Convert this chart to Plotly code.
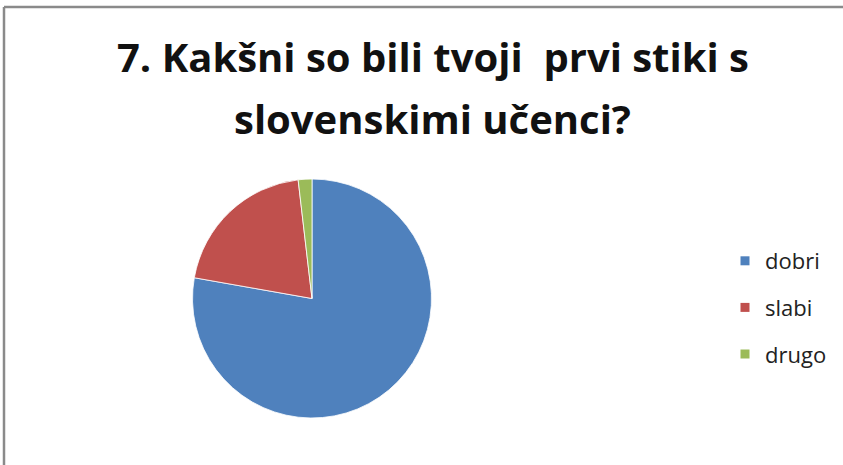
import plotly.graph_objects as go

categories = ["dobri", "slabi", "drugo"]
values = [42, 11, 1]
colors = ["#4F81BD", "#C0504D", "#9BBB59"]
title_lines = ["7. Kakšni so bili tvoji  prvi stiki s", "slovenskimi učenci?"]

W, H = 843, 465
cx, cy, r = 312, 298.5, 119.5

fig = go.Figure()
fig.add_trace(go.Pie(
    labels=categories, values=values, sort=False, direction="clockwise", rotation=0,
    marker=dict(colors=colors, line=dict(color="white", width=0.8)),
    textinfo="none", hoverinfo="label+value+percent", showlegend=False,
    domain=dict(x=[(cx - r) / W, (cx + r) / W], y=[(H - cy - r) / H, (H - cy + r) / H]),
))
for i, (c, col) in enumerate(zip(categories, colors)):
    fig.add_trace(go.Scatter(
        x=[None], y=[None], mode="markers", name=c, legendgroup=c,
        marker=dict(symbol="square", size=9, color=col), showlegend=True,
    ))

fig.update_layout(
    width=W, height=H, margin=dict(l=0, r=0, t=0, b=0),
    paper_bgcolor="white", plot_bgcolor="white",
    xaxis=dict(visible=False), yaxis=dict(visible=False),
    font=dict(family="Open Sans, sans-serif", color="#222"),
    legend=dict(x=725 / W, y=1 - 240 / H, xanchor="left", yanchor="top",
                font=dict(size=22, family="Open Sans, sans-serif", color="#222"),
                tracegroupgap=15, itemwidth=30, bgcolor="rgba(0,0,0,0)"),
    annotations=[
        dict(text=title_lines[0], x=433 / W, y=1 - 56 / H, xref="paper", yref="paper",
             showarrow=False, xanchor="center", yanchor="middle",
             font=dict(size=40, family="Open Sans, sans-serif", color="#111", weight="bold")),
        dict(text=title_lines[1], x=432 / W, y=1 - 118 / H, xref="paper", yref="paper",
             showarrow=False, xanchor="center", yanchor="middle",
             font=dict(size=40, family="Open Sans, sans-serif", color="#111", weight="bold")),
    ],
    shapes=[
        dict(type="line", xref="paper", yref="paper", x0=4 / W, x1=1, y0=1 - 7 / H, y1=1 - 7 / H,
             line=dict(color="#8a8a8a", width=2.5)),
        dict(type="line", xref="paper", yref="paper", x0=4 / W, x1=4 / W, y0=0, y1=1 - 7 / H,
             line=dict(color="#8a8a8a", width=2.5)),
    ],
)

fig.write_html("out.html")
